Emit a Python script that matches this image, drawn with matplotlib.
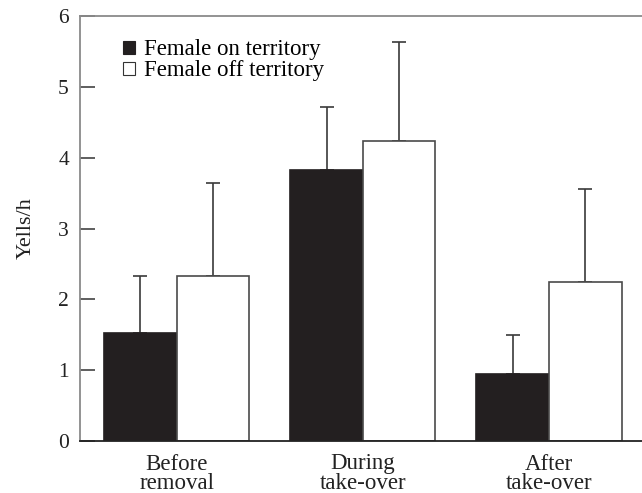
import matplotlib
matplotlib.use("Agg")
import matplotlib.pyplot as plt
from matplotlib.patches import Patch
import numpy as np

# Mean yell rates and upper SE for each period
periods = ["Before\nremoval", "During\ntake-over", "After\ntake-over"]
on_territory = [1.52, 3.82, 0.95]
on_territory_err = [0.81, 0.90, 0.54]
off_territory = [2.33, 4.23, 2.24]
off_territory_err = [1.31, 1.41, 1.32]
series_labels = ["Female on territory", "Female off territory"]
y_ticks = [0, 1, 2, 3, 4, 5, 6]

plt.rcParams["font.family"] = ["Liberation Serif", "DejaVu Serif"]

fig = plt.figure(figsize=(6.42, 4.93), dpi=100)
ax = fig.add_axes([80 / 642, 1 - 441 / 493, 1 - 80 / 642, (441 - 16) / 493])

x = np.arange(len(periods))
w = 0.39
dark = "#231f20"
edge = "#4a4a4a"

ax.bar(x - w / 2, on_territory, w, color=dark, edgecolor=dark, linewidth=1.2, zorder=2)
ax.bar(x + w / 2, off_territory, w, color="white", edgecolor=edge, linewidth=1.2, zorder=2)

ax.errorbar(x - w / 2, on_territory, yerr=[np.zeros(3), on_territory_err], fmt="none",
            ecolor="#3a3a3a", elinewidth=1.2, capsize=5, capthick=1.2, zorder=1)
ax.errorbar(x + w / 2, off_territory, yerr=[np.zeros(3), off_territory_err], fmt="none",
            ecolor="#3a3a3a", elinewidth=1.2, capsize=5, capthick=1.2, zorder=1)

ax.set_xlim(-0.52, 2.5)
ax.set_ylim(0, 6)
ax.set_yticks(y_ticks)
ax.set_xticks(x)
ax.set_xticklabels(periods, fontsize=16.5, color="#222222", linespacing=0.9)
ax.tick_params(axis="x", length=0, pad=9)
ax.tick_params(axis="y", direction="in", length=11, width=1.1, color="#333333",
               labelsize=15.5, labelcolor="#222222", pad=8)
ax.set_ylabel("Yells/h", fontsize=16, color="#222222", labelpad=16)

ax.spines["right"].set_visible(False)
ax.spines["left"].set_color("#8a8a8a")
ax.spines["top"].set_color("#8a8a8a")
ax.spines["bottom"].set_color("#222222")
for s in ax.spines.values():
    s.set_linewidth(1.3)

handles = [Patch(facecolor=dark, edgecolor=dark, linewidth=0.8),
           Patch(facecolor="white", edgecolor="#333333", linewidth=0.8)]
ax.legend(handles, series_labels, loc="upper left", bbox_to_anchor=(0.061, 0.967),
          frameon=False, fontsize=16.5, handlelength=0.5, handleheight=0.5,
          handletextpad=0.4, labelspacing=0.0, borderaxespad=0)

fig.savefig("out.png", dpi=100)
